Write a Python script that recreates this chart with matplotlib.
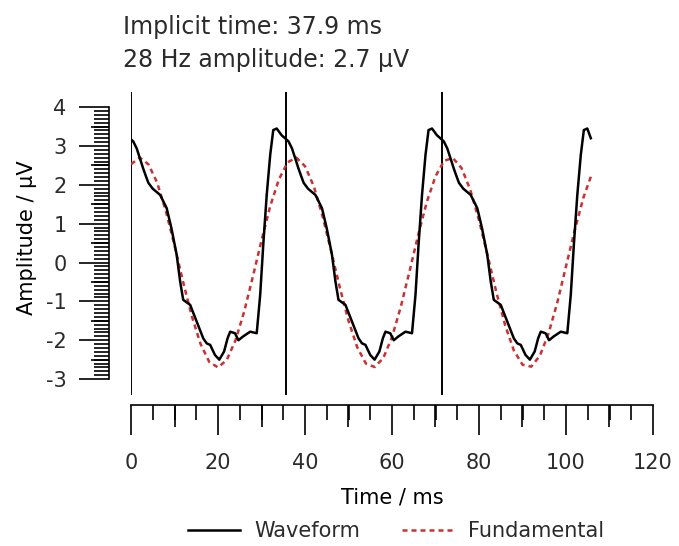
import matplotlib
matplotlib.use("Agg")
import numpy as np
import matplotlib.pyplot as plt
from matplotlib.ticker import MultipleLocator, FixedLocator

plt.rcParams['font.family'] = ['DejaVu Sans']
plt.rcParams['axes.unicode_minus'] = False
plt.rcParams['text.color'] = '#2b2b2b'
plt.rcParams['xtick.labelcolor'] = '#2b2b2b'
plt.rcParams['ytick.labelcolor'] = '#2b2b2b'

# averaged waveform (three repeats of one 28 Hz cycle)
wave_t = [0.0, 0.5, 1.3, 2.0, 2.8, 3.5, 4.0, 5.0, 6.7, 8.2, 9.3, 10.5, 11.3, 12.0,
          13.6, 15.1, 16.6, 17.4, 18.2, 19.3, 20.3, 21.4, 22.2, 22.8, 23.9, 24.7,
          25.8, 27.4, 28.9, 29.7, 30.4, 31.2, 32.0, 32.7, 33.5, 34.6, 35.2,
          35.7, 36.2, 37.0, 37.7, 38.5, 39.2, 39.7, 40.7, 42.4, 43.9, 45.0, 46.2,
          47.0, 47.7, 49.3, 50.8, 52.3, 53.1, 53.9, 55.0, 56.0, 57.1, 57.9, 58.5,
          59.6, 60.4, 61.5, 63.1, 64.6, 65.4, 66.1, 66.9, 67.7, 68.4, 69.2, 70.3, 70.9,
          71.4, 71.9, 72.7, 73.4, 74.2, 74.9, 75.4, 76.4, 78.1, 79.6, 80.7, 81.9,
          82.7, 83.4, 85.0, 86.5, 88.0, 88.8, 89.6, 90.7, 91.7, 92.8, 93.6, 94.2,
          95.3, 96.1, 97.2, 98.8, 100.3, 101.1, 101.8, 102.6, 103.4, 104.1, 104.9, 105.7]
wave_v = [3.17, 3.12, 2.94, 2.70, 2.42, 2.20, 2.05, 1.90, 1.74, 1.40, 0.88, 0.20, -0.49, -0.96,
          -1.09, -1.52, -1.95, -2.08, -2.12, -2.38, -2.50, -2.29, -1.95, -1.78, -1.82, -2.00,
          -1.90, -1.78, -1.82, -0.83, 0.45, 1.74, 2.77, 3.41, 3.45, 3.28, 3.22,
          3.17, 3.12, 2.94, 2.70, 2.42, 2.20, 2.05, 1.90, 1.74, 1.40, 0.88, 0.20,
          -0.49, -0.96, -1.09, -1.52, -1.95, -2.08, -2.12, -2.38, -2.50, -2.29, -1.95, -1.78,
          -1.82, -2.00, -1.90, -1.78, -1.82, -0.83, 0.45, 1.74, 2.77, 3.41, 3.45, 3.28, 3.22,
          3.17, 3.12, 2.94, 2.70, 2.42, 2.20, 2.05, 1.90, 1.74, 1.40, 0.88, 0.20,
          -0.49, -0.96, -1.09, -1.52, -1.95, -2.08, -2.12, -2.38, -2.50, -2.29, -1.95,
          -1.78, -1.82, -2.00, -1.90, -1.78, -1.82, -0.83, 0.45, 1.74, 2.77, 3.41, 3.45, 3.20]

# fundamental (28 Hz component), sampled every 2 ms
fund_t = list(range(0, 107, 2))
fund_v = [2.53, 2.70, 2.53, 2.06, 1.33, 0.44, -0.51, -1.39, -2.10, -2.56, -2.70, -2.51,
          -2.01, -1.27, -0.37, 0.57, 1.45, 2.14, 2.58, 2.70, 2.48, 1.97, 1.21, 0.30,
          -0.64, -1.50, -2.18, -2.60, -2.69, -2.46, -1.92, -1.15, -0.24, 0.70, 1.56,
          2.22, 2.62, 2.69, 2.43, 1.87, 1.09, 0.17, -0.77, -1.61, -2.26, -2.63, -2.68,
          -2.40, -1.82, -1.03, -0.10, 0.83, 1.67, 2.30]

# cycle markers (one period of 28 Hz)
cycle_marks = [0, 35.7, 71.4]

implicit_time = 37.9
amplitude = 2.7

PX = 0.72  # points per pixel at 100 dpi
LW = 1.2

fig = plt.figure(figsize=(6.79, 5.46), dpi=100)
ax = fig.add_axes([131/679, 1 - 395/546, 522/679, 303/546])
ax.set_xlim(0, 120)
ax.set_ylim(-3.41, 4.39)

for xm in cycle_marks:
    ax.axvline(xm, color='black', lw=1.4, zorder=1)

ax.plot(fund_t, fund_v, color='#c83232', lw=1.8, ls=(0, (2.0, 1.6)), label='Fundamental', zorder=2)
ax.plot(wave_t, wave_v, color='black', lw=1.8, label='Waveform', zorder=3)

for s in ['top', 'right']:
    ax.spines[s].set_visible(False)
ax.spines['left'].set_position(('outward', 22*PX))
ax.spines['left'].set_bounds(-3, 4)
ax.spines['bottom'].set_position(('outward', 10*PX))
ax.spines['bottom'].set_bounds(0, 120)
ax.spines['left'].set_linewidth(LW)
ax.spines['bottom'].set_linewidth(LW)

ax.set_xticks(range(0, 121, 20))
ax.xaxis.set_minor_locator(MultipleLocator(5))
ax.set_yticks(range(-3, 5))
ax.yaxis.set_minor_locator(FixedLocator(np.round(np.arange(-3, 4.01, 0.1), 1)))
ax.tick_params(axis='x', which='major', length=30*PX, width=LW, pad=13, labelsize=15)
ax.tick_params(axis='x', which='minor', length=15*PX, width=LW)
ax.tick_params(axis='y', which='major', length=30*PX, width=LW, pad=9, labelsize=15)
ax.tick_params(axis='y', which='minor', length=15*PX, width=LW)

# emphasised minor ticks (every 10 ms, every 0.5 µV)
axm = ax.twiny()
axm.set_xlim(0, 120)
axm.xaxis.set_ticks_position('bottom')
axm.spines['bottom'].set_position(('outward', 10*PX))
for s in axm.spines.values():
    s.set_visible(False)
axm.set_xticks(range(10, 120, 20))
axm.tick_params(axis='x', length=22*PX, width=LW, labelbottom=False, labeltop=False)

aym = ax.twinx()
aym.set_ylim(-3.41, 4.39)
aym.yaxis.set_ticks_position('left')
aym.spines['left'].set_position(('outward', 22*PX))
for s in aym.spines.values():
    s.set_visible(False)
aym.set_yticks([-2.5, -1.5, -0.5, 0.5, 1.5, 2.5, 3.5])
aym.tick_params(axis='y', length=18*PX, width=LW, labelleft=False, labelright=False)

ax.set_xlabel('Time / ms', fontsize=15)
ax.xaxis.set_label_coords(0.5, -0.305)
ax.set_ylabel('Amplitude / µV', fontsize=15)
ax.yaxis.set_label_coords(-0.18, 0.52)

fig.text(123/679, 1 - 27/546, f'Implicit time: {implicit_time} ms', fontsize=17, va='center')
fig.text(123/679, 1 - 60/546, f'28 Hz amplitude: {amplitude} µV', fontsize=17, va='center')

h, l = ax.get_legend_handles_labels()
fig.legend(h[::-1], l[::-1], loc='center', bbox_to_anchor=(396/679, 1 - 531/546), ncol=2,
           frameon=False, fontsize=15, handlelength=2.5, columnspacing=2.0, handletextpad=0.7)

fig.savefig('out.png', dpi=100)
